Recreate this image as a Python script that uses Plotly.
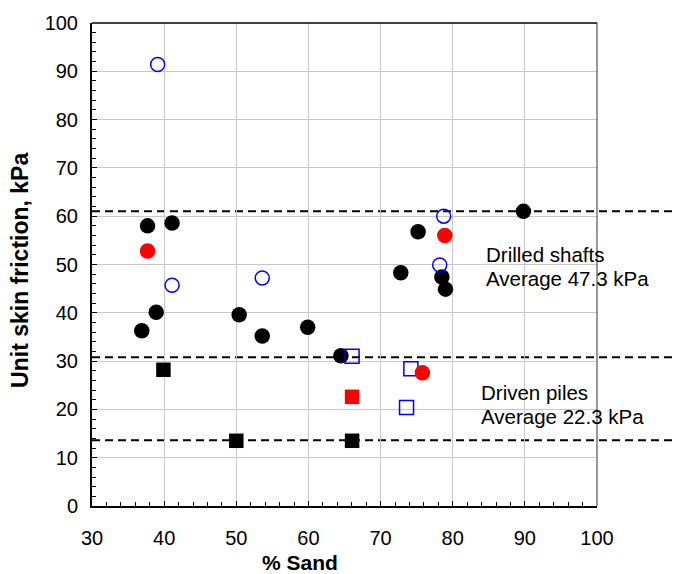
import plotly.graph_objects as go

# Data (x = % Sand, y = unit skin friction in kPa)
blk_circ_x = [37.7, 41.1, 38.9, 36.9, 50.4, 53.6, 59.9, 64.5, 72.8, 75.2, 78.5, 79.0, 89.8]
blk_circ_y = [58.0, 58.6, 40.1, 36.3, 39.6, 35.2, 37.0, 31.1, 48.3, 56.8, 47.4, 44.9, 61.0]
red_circ_x = [37.7, 78.9, 75.8]
red_circ_y = [52.8, 56.0, 27.6]
blu_circ_x = [39.1, 41.1, 53.6, 78.75, 78.2]
blu_circ_y = [91.4, 45.7, 47.2, 60.0, 49.9]
blk_sq_x = [39.9, 50.0, 66.05]
blk_sq_y = [28.2, 13.5, 13.5]
red_sq_x = [66.05]
red_sq_y = [22.6]
blu_sq_x = [66.05, 74.2, 73.6]
blu_sq_y = [31.0, 28.4, 20.4]
avg_lines = [61.0, 30.8, 13.6]
x_ticks = [30, 40, 50, 60, 70, 80, 90, 100]
y_ticks = [0, 10, 20, 30, 40, 50, 60, 70, 80, 90, 100]

FONT = "Liberation Sans, Arial, sans-serif"
L, R, T, B = 92, 77, 17, 68
W, H = 674, 574
pw, ph = W - L - R, H - T - B

fig = go.Figure()
fig.add_trace(go.Scatter(x=blk_circ_x, y=blk_circ_y, mode="markers",
                         marker=dict(symbol="circle", size=15.5, color="black", line=dict(width=0))))
fig.add_trace(go.Scatter(x=blk_sq_x, y=blk_sq_y, mode="markers",
                         marker=dict(symbol="square", size=14.5, color="black", line=dict(width=0))))
fig.add_trace(go.Scatter(x=blu_circ_x, y=blu_circ_y, mode="markers",
                         marker=dict(symbol="circle-open", size=14, color="#0000ff", line=dict(width=1.5))))
fig.add_trace(go.Scatter(x=blu_sq_x, y=blu_sq_y, mode="markers",
                         marker=dict(symbol="square-open", size=14, color="#0000ff", line=dict(width=1.5))))
fig.add_trace(go.Scatter(x=red_circ_x, y=red_circ_y, mode="markers",
                         marker=dict(symbol="circle", size=15.5, color="#ff0000", line=dict(width=0))))
fig.add_trace(go.Scatter(x=red_sq_x, y=red_sq_y, mode="markers",
                         marker=dict(symbol="square", size=14.5, color="#ff0000", line=dict(width=0))))

for v in avg_lines:
    fig.add_shape(type="line", xref="paper", yref="y", x0=0, x1=1.16, y0=v, y1=v,
                  line=dict(color="black", width=2, dash="8px,5px"), layer="between")

# frame top and right
fig.add_shape(type="line", xref="paper", yref="paper", x0=0, x1=1, y0=1, y1=1,
              line=dict(color="black", width=1.5))
fig.add_shape(type="line", xref="paper", yref="paper", x0=1, x1=1, y0=0, y1=1,
              line=dict(color="#333333", width=1))

ann = [
    ("Drilled shafts", 84.3, 52.0),
    ("Average 47.3 kPa", 84.3, 47.1),
    ("Driven piles", 83.6, 23.5),
    ("Average 22.3 kPa", 83.6, 18.6),
]
for t, ax_, ay_ in ann:
    fig.add_annotation(x=ax_, y=ay_, xref="x", yref="y", text=t, showarrow=False,
                       xanchor="left", yanchor="middle",
                       font=dict(family=FONT, size=20.5, color="black"))

fig.add_annotation(x=(300 - L) / pw, y=(H - B - 563) / ph, xref="paper", yref="paper",
                   text="<b>% Sand</b>", showarrow=False, xanchor="center", yanchor="middle",
                   font=dict(family=FONT, size=21, color="black"))

fig.add_annotation(x=(20 - L) / pw, y=(H - B - 268) / ph, xref="paper", yref="paper",
                   text="<b>Unit skin friction, kPa</b>", showarrow=False, textangle=-90,
                   xanchor="center", yanchor="middle",
                   font=dict(family=FONT, size=23, color="black"))

fig.update_xaxes(range=[30, 100], tickvals=x_ticks, ticks="inside", ticklen=5, tickwidth=1,
                 tickcolor="black", showline=True, linecolor="black", linewidth=2,
                 showgrid=True, gridcolor="#c8c8c8", gridwidth=1, zeroline=False,
                 minor=dict(dtick=2, ticks="inside", ticklen=4, tickcolor="black", showgrid=False),
                 tickfont=dict(family=FONT, size=20, color="black"), ticklabelstandoff=13)
fig.update_yaxes(range=[0, 100], tickvals=y_ticks, ticks="inside", ticklen=5, tickwidth=1,
                 tickcolor="black", showline=True, linecolor="black", linewidth=2,
                 showgrid=True, gridcolor="#c8c8c8", gridwidth=1, zeroline=False,
                 minor=dict(dtick=2, ticks="inside", ticklen=4, tickcolor="black", showgrid=False),
                 tickfont=dict(family=FONT, size=20, color="black"), ticklabelstandoff=8)

fig.update_layout(width=W, height=H, margin=dict(l=L, r=R, t=T, b=B),
                  paper_bgcolor="white", plot_bgcolor="white", showlegend=False,
                  hovermode=False)

fig.write_html("out.html")
